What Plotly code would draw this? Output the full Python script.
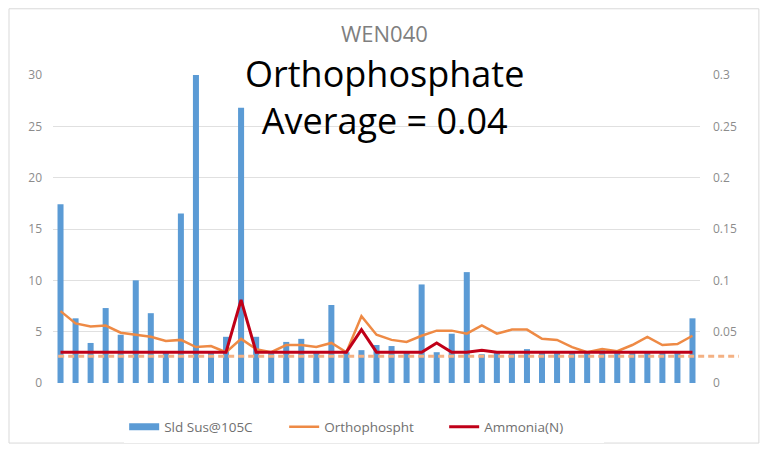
import plotly.graph_objects as go

# sample index (43 samples, no date labels shown on the axis)
samples = list(range(1, 44))

# Sld Sus@105C (left axis)
solids = [17.4, 6.3, 3.9, 7.3, 4.7, 10.0, 6.8, 3.0, 16.5, 30.0,
          3.0, 4.5, 26.8, 4.5, 3.0, 4.0, 4.3, 3.0, 7.6, 3.0,
          3.2, 3.7, 3.6, 3.0, 9.6, 3.0, 4.8, 10.8, 2.8, 3.0,
          3.0, 3.3, 3.0, 3.0, 3.0, 3.0, 3.2, 3.0, 3.0, 3.0,
          3.0, 3.0, 6.3]

# Orthophospht (right axis)
ortho = [0.070, 0.058, 0.055, 0.056, 0.049, 0.047, 0.045, 0.041, 0.042, 0.035,
         0.036, 0.030, 0.043, 0.033, 0.030, 0.037, 0.037, 0.035, 0.039, 0.030,
         0.065, 0.047, 0.042, 0.040, 0.046, 0.051, 0.051, 0.048, 0.056, 0.048,
         0.052, 0.052, 0.043, 0.042, 0.035, 0.030, 0.033, 0.031, 0.037, 0.045,
         0.037, 0.038, 0.046]

# Ammonia(N) (right axis)
ammonia = [0.03, 0.03, 0.03, 0.03, 0.03, 0.03, 0.03, 0.03, 0.03, 0.03,
           0.03, 0.03, 0.081, 0.03, 0.03, 0.03, 0.03, 0.03, 0.03, 0.03,
           0.052, 0.03, 0.03, 0.03, 0.03, 0.039, 0.03, 0.03, 0.032, 0.03,
           0.03, 0.03, 0.03, 0.03, 0.03, 0.03, 0.03, 0.03, 0.03, 0.03,
           0.03, 0.03, 0.03]

left_ticks = [0, 5, 10, 15, 20, 25, 30]
right_ticks = [0, 0.05, 0.1, 0.15, 0.2, 0.25, 0.3]
right_labels = ["0", "0.05", "0.1", "0.15", "0.2", "0.25", "0.3"]

ortho_ref = 0.026  # dashed reference line drawn over the chart

gray = "#8c8c8c"
blue = "#5B9BD5"

fig = go.Figure()
fig.add_trace(go.Bar(x=samples, y=solids, name="Sld Sus@105C", showlegend=False,
                     marker=dict(color=blue, line=dict(width=0))))
# legend-only entry so the swatch is a wide bar like the Excel one
fig.add_trace(go.Scatter(x=[None], y=[None], name="Sld Sus@105C", mode="lines",
                         line=dict(color=blue, width=7)))
fig.add_trace(go.Scatter(x=samples, y=ortho, name="Orthophospht", yaxis="y2",
                         mode="lines", line=dict(color="#EE8A45", width=2.5)))
fig.add_trace(go.Scatter(x=samples, y=ammonia, name="Ammonia(N)", yaxis="y2",
                         mode="lines", line=dict(color="#C00018", width=3)))

fig.add_shape(type="line", xref="paper", yref="y2", x0=0.008, x1=1.06,
              y0=ortho_ref, y1=ortho_ref,
              line=dict(color="#F4B183", width=3, dash="6px,4px"))

# outer chart frame
fig.add_shape(type="rect", xref="paper", yref="paper",
              x0=-0.068, x1=1.091, y0=-0.195, y1=1.215,
              line=dict(color="#d9d9d9", width=1))

fig.add_annotation(text="WEN040", xref="paper", yref="paper", x=0.513, y=1.136,
                   xanchor="center", yanchor="middle", showarrow=False,
                   font=dict(size=22, color="#7f7f7f"))
fig.add_annotation(text="Orthophosphate<br>Average = 0.04", xref="paper", yref="paper",
                   x=0.512, y=0.927, xanchor="center", yanchor="middle", showarrow=False,
                   font=dict(size=36, color="black", family="Open Sans"))

# page body has an 8px margin, so the figure is 16px smaller than the window
fig.update_layout(
    width=752, height=436,
    margin=dict(l=45, r=60, t=67, b=61, autoexpand=False),
    paper_bgcolor="white", plot_bgcolor="white",
    font=dict(family="Open Sans", color=gray, size=12),
    bargap=0.6,
    showlegend=True,
    legend=dict(orientation="h", x=0.11, xanchor="left", y=-0.143, yanchor="middle",
                entrywidth=115, entrywidthmode="pixels",
                font=dict(size=13.5, color="#707070")),
    xaxis=dict(showticklabels=False, showgrid=False, zeroline=False,
               range=[0.5, 43.5], showline=False, ticks=""),
    yaxis=dict(range=[0, 30], tickvals=left_ticks, showgrid=True,
               gridcolor="#e0e0e0", zeroline=False, ticklabelstandoff=10,
               tickfont=dict(size=12, color=gray)),
    yaxis2=dict(range=[0, 0.3], tickvals=right_ticks, ticktext=right_labels,
                overlaying="y", side="right", showgrid=False, zeroline=False,
                ticklabelstandoff=12, tickfont=dict(size=12, color=gray)),
)

fig.write_html("out.html")
